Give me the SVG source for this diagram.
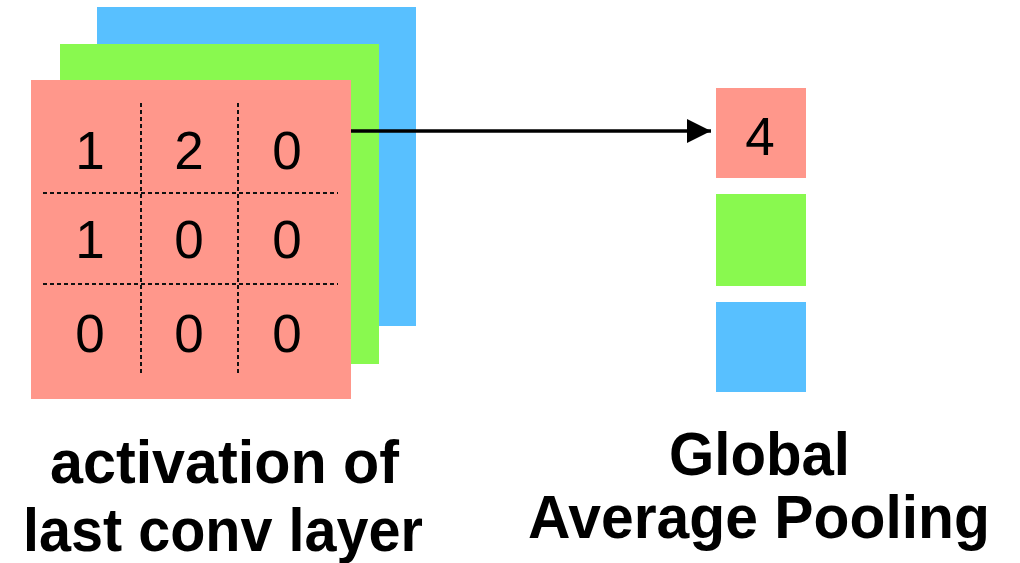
<svg xmlns="http://www.w3.org/2000/svg" width="1020" height="563" viewBox="0 0 1020 563">
<style>
.red{fill:#FF978B}.green{fill:#89F94F}.blue{fill:#58C0FF}
.grid{stroke:#111;stroke-width:2;stroke-dasharray:4 3;fill:none}
.num{font-family:"Liberation Sans",Arial,sans-serif;font-size:53px;fill:#000;text-anchor:middle}
.lbl{font-family:"Liberation Sans",Arial,sans-serif;font-size:61px;font-weight:bold;fill:#000;text-anchor:middle}
.conn{stroke:#000;stroke-width:3.5;fill:none}
</style>
<defs>
<marker id="ah" markerUnits="userSpaceOnUse" markerWidth="26" markerHeight="26" refX="24" refY="12" orient="auto">
<path d="M0,0 L24,12 L0,24 Z" fill="#000"/>
</marker>
</defs>
<rect width="1020" height="563" fill="#fff"/>
<g id="activation">
<rect class="blue" x="97" y="7" width="319" height="319"/>
<rect class="green" x="60" y="44" width="319" height="320"/>
<rect class="red" x="31" y="80" width="320" height="319"/>
<line class="grid" x1="141" y1="103" x2="141" y2="376"/>
<line class="grid" x1="238" y1="103" x2="238" y2="376"/>
<line class="grid" x1="43" y1="193" x2="338" y2="193"/>
<line class="grid" x1="43" y1="284" x2="338" y2="284"/>
<text class="num" x="90" y="169">1</text>
<text class="num" x="189" y="169">2</text>
<text class="num" x="287" y="169">0</text>
<text class="num" x="90" y="258">1</text>
<text class="num" x="189" y="258">0</text>
<text class="num" x="287" y="258">0</text>
<text class="num" x="90" y="352">0</text>
<text class="num" x="189" y="352">0</text>
<text class="num" x="287" y="352">0</text>
</g>
<g id="gap">
<rect class="red" x="716" y="88" width="90" height="90"/>
<rect class="green" x="716" y="194" width="90" height="92"/>
<rect class="blue" x="716" y="302" width="90" height="90"/>
<text class="num" x="760" y="155">4</text>
</g>
<g id="connectors">
<line class="conn" x1="351" y1="131" x2="711" y2="131" marker-end="url(#ah)"/>
</g>
<g id="label-activation">
<text class="lbl" x="224.5" y="483" textLength="349" lengthAdjust="spacingAndGlyphs">activation of</text>
<text class="lbl" x="223" y="551" textLength="400" lengthAdjust="spacingAndGlyphs">last conv layer</text>
</g>
<g id="label-gap">
<text class="lbl" x="759.5" y="475" textLength="181" lengthAdjust="spacingAndGlyphs">Global</text>
<text class="lbl" x="759" y="538" textLength="462" lengthAdjust="spacingAndGlyphs">Average Pooling</text>
</g>
</svg>
